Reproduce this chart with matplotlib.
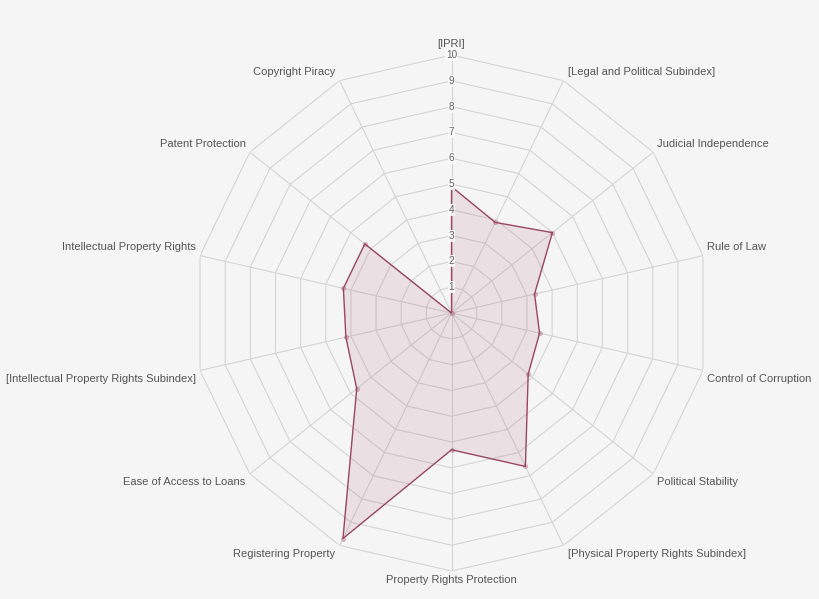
import numpy as np
import matplotlib
matplotlib.use("Agg")
import matplotlib.pyplot as plt

categories = [
    "[IPRI]",
    "[Legal and Political Subindex]",
    "Judicial Independence",
    "Rule of Law",
    "Control of Corruption",
    "Political Stability",
    "[Physical Property Rights Subindex]",
    "Property Rights Protection",
    "Registering Property",
    "Ease of Access to Loans",
    "[Intellectual Property Rights Subindex]",
    "Intellectual Property Rights",
    "Patent Protection",
    "Copyright Piracy",
]
values = [4.9, 3.9, 5.0, 3.3, 3.5, 3.8, 6.6, 5.3, 9.7, 4.7, 4.2, 4.3, 4.3, 0.0]
tick_values = [1, 2, 3, 4, 5, 6, 7, 8, 9, 10]

BG = "#f5f5f5"
GRID = "#d4d4d4"
LINE = "#9a4561"
FILL = (0.62, 0.27, 0.38, 0.12)
TEXT = "#555555"

plt.rcParams['font.family'] = ['Liberation Sans', 'DejaVu Sans']

fig = plt.figure(figsize=(8.2, 5.99), dpi=100, facecolor=BG)
ax = fig.add_axes([0.2360, 0.0467, 0.6293, 0.8614], projection='polar')
ax.set_facecolor(BG)
ax.set_theta_zero_location('N')
ax.set_theta_direction(-1)
ax.set_ylim(0, 10)
ax.grid(False)
ax.spines['polar'].set_visible(False)
ax.set_xticks([])
ax.set_yticks([])
ax.patch.set_alpha(0)

n = len(categories)
angles = np.arange(n) * 2 * np.pi / n

# polygon grid rings
ring_angles = np.append(angles, angles[0])
for t in tick_values:
    ax.plot(ring_angles, [t] * (n + 1), color=GRID, lw=0.8, zorder=1)
# spokes
for a in angles:
    ax.plot([a, a], [0, 10], color=GRID, lw=0.8, zorder=1)

# data
vals = np.append(values, values[0])
ax.fill(ring_angles, vals, color=FILL, zorder=2, lw=0)
ax.plot(ring_angles, vals, color=LINE, lw=1.0, zorder=3)
ax.plot(angles, values, 'o', ms=3, color=LINE, mfc=(0.62, 0.27, 0.38, 0.3), mew=0.6, zorder=4)

# tick labels on top spoke
for t in tick_values:
    ax.text(0, t, str(t), ha='center', va='center', fontsize=7.2, color='#666666', zorder=5,
            bbox=dict(boxstyle='square,pad=0.1', fc='#fafafa', ec='none', alpha=0.9))

# category labels
for a, lab in zip(angles, categories):
    s = np.sin(a)
    c = np.cos(a)
    if abs(s) < 1e-6:
        ha = 'center'
    elif s > 0:
        ha = 'left'
    else:
        ha = 'right'
    va = 'bottom' if c >= 0 else 'top'
    dx = 3.0 * np.sign(s) if abs(s) > 1e-6 else 0
    dy = 2.5 if c >= 0 else -2.5
    if abs(s) < 1e-6:
        dy = 4.5 if c > 0 else -3
    ax.annotate(lab, xy=(a, 10), xytext=(dx, dy), textcoords='offset points',
                ha=ha, va=va, fontsize=8.0, color=TEXT, annotation_clip=False, zorder=6)

fig.savefig("out.png", dpi=100, facecolor=BG)
